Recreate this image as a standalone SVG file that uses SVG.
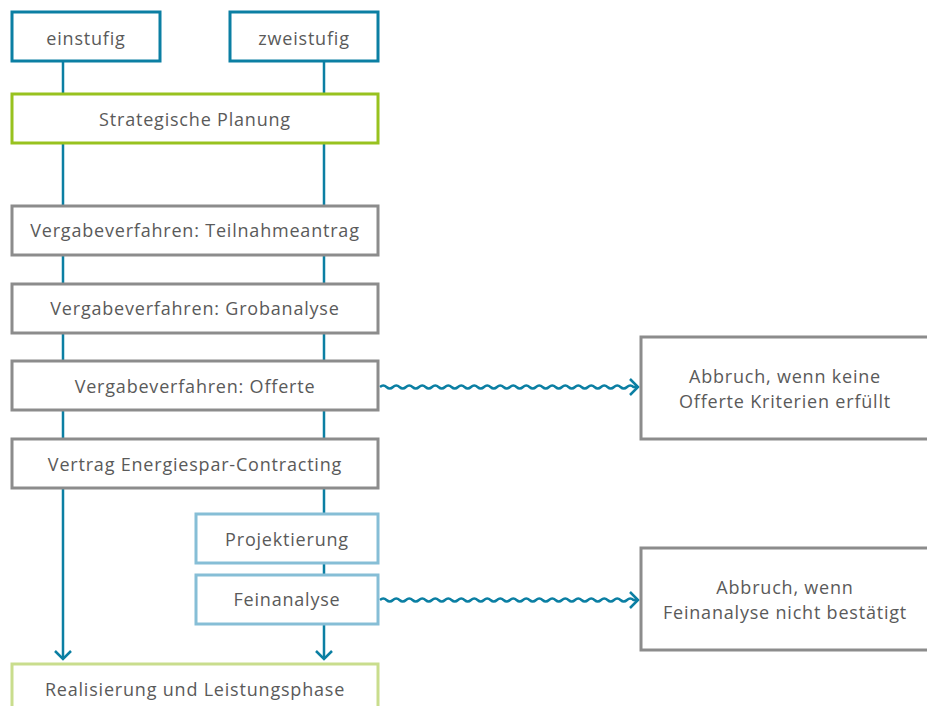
<svg xmlns="http://www.w3.org/2000/svg" width="927" height="706" viewBox="0 0 927 706">
<style>
.b{fill:#fff;stroke-width:3}
.blue{stroke:#0b7fa3}
.green{stroke:#98c21f}
.grey{stroke:#8c8c8c}
.lblue{stroke:#86bed6}
.lgreen{stroke:#c9dd8d}
text{font-family:"Open Sans","Noto Sans",sans-serif;font-size:18px;letter-spacing:0.8px;fill:#5a5a5a;text-anchor:middle;dominant-baseline:central}
.c{fill:none;stroke:#0b7fa3;stroke-width:2.5}
</style>
<rect width="927" height="706" fill="#fff"/>
<g id="connectors">
<path class="c" d="M63,61V659M324,61V514M324,563V575M324,624V659"/>
<path class="c" d="M55,651L63,659L71,651M316,651L324,659L332,651"/>
<path class="c" d="M380,387q3.25,-3 6.5,0t6.5,0t6.5,0t6.5,0t6.5,0t6.5,0t6.5,0t6.5,0t6.5,0t6.5,0t6.5,0t6.5,0t6.5,0t6.5,0t6.5,0t6.5,0t6.5,0t6.5,0t6.5,0t6.5,0t6.5,0t6.5,0t6.5,0t6.5,0t6.5,0t6.5,0t6.5,0t6.5,0t6.5,0t6.5,0t6.5,0t6.5,0t6.5,0t6.5,0t6.5,0t6.5,0t6.5,0t6.5,0t6.5,0L638,387M630,379L638,387L630,395"/>
<path class="c" d="M380,600q3.25,-3 6.5,0t6.5,0t6.5,0t6.5,0t6.5,0t6.5,0t6.5,0t6.5,0t6.5,0t6.5,0t6.5,0t6.5,0t6.5,0t6.5,0t6.5,0t6.5,0t6.5,0t6.5,0t6.5,0t6.5,0t6.5,0t6.5,0t6.5,0t6.5,0t6.5,0t6.5,0t6.5,0t6.5,0t6.5,0t6.5,0t6.5,0t6.5,0t6.5,0t6.5,0t6.5,0t6.5,0t6.5,0t6.5,0t6.5,0L638,600M630,592L638,600L630,608"/>
</g>
<g id="einstufig"><rect class="b blue" x="12" y="12" width="148" height="49"/><text x="86" y="38">einstufig</text></g>
<g id="zweistufig"><rect class="b blue" x="230" y="12" width="148" height="49"/><text x="304" y="38">zweistufig</text></g>
<g id="strategische"><rect class="b green" x="12" y="94" width="366" height="49"/><text x="195" y="119">Strategische Planung</text></g>
<g id="teilnahmeantrag"><rect class="b grey" x="12" y="206" width="366" height="49"/><text x="195" y="230">Vergabeverfahren: Teilnahmeantrag</text></g>
<g id="grobanalyse"><rect class="b grey" x="12" y="284" width="366" height="49"/><text x="195" y="308">Vergabeverfahren: Grobanalyse</text></g>
<g id="offerte"><rect class="b grey" x="12" y="361" width="366" height="49"/><text x="195" y="386">Vergabeverfahren: Offerte</text></g>
<g id="vertrag"><rect class="b grey" x="12" y="439" width="366" height="49"/><text x="195" y="464">Vertrag Energiespar-Contracting</text></g>
<g id="projektierung"><rect class="b lblue" x="196" y="514" width="182" height="49"/><text x="287" y="539">Projektierung</text></g>
<g id="feinanalyse"><rect class="b lblue" x="196" y="575" width="182" height="49"/><text x="287" y="599">Feinanalyse</text></g>
<g id="realisierung"><rect class="b lgreen" x="12" y="664" width="366" height="60"/><text x="195" y="689">Realisierung und Leistungsphase</text></g>
<g id="abbruch1"><rect class="b grey" x="641" y="337" width="300" height="102"/><text x="785" y="376">Abbruch, wenn keine</text><text x="785" y="401">Offerte Kriterien erfüllt</text></g>
<g id="abbruch2"><rect class="b grey" x="641" y="548" width="300" height="102"/><text x="785" y="587">Abbruch, wenn</text><text x="785" y="612">Feinanalyse nicht bestätigt</text></g>
</svg>
